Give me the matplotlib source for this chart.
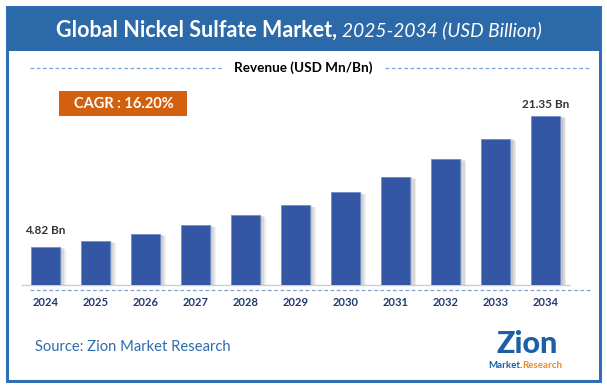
import matplotlib
matplotlib.use("Agg")
from matplotlib import pyplot as plt
from matplotlib.patches import Rectangle
import matplotlib.patheffects as pe

# data
years = ["2024", "2025", "2026", "2027", "2028", "2029",
         "2030", "2031", "2032", "2033", "2034"]
revenue = [4.82, 5.57, 6.45, 7.58, 8.83, 10.08, 11.70, 13.70, 15.97, 18.47, 21.35]
first_label = "4.82 Bn"
last_label = "21.35 Bn"
cagr_text = "CAGR : 16.20%"

W, H = 607, 387
FRAME = "#2E6FB5"
BAR = "#3356A5"
NAVY = "#1F3A6E"


def fx(x):
    return x / W


def fy(y):
    return 1 - y / H


fig = plt.figure(figsize=(W / 100, H / 100), dpi=100)
fig.patch.set_facecolor("white")
plt.rcParams["font.family"] = ["Lato", "DejaVu Sans"]

# outer frame and title bar
fig.patches.append(Rectangle((fx(7), fy(381)), fx(593), (381 - 7) / H,
                             transform=fig.transFigure, fill=False,
                             edgecolor=FRAME, linewidth=2.2))
fig.patches.append(Rectangle((fx(7), fy(51)), fx(593), 44 / H,
                             transform=fig.transFigure, facecolor="#2B69A8",
                             edgecolor="none"))

# title: bold part + italic part, centred together
t1 = fig.text(0, fy(30), "Global Nickel Sulfate Market, ", color="white",
              fontsize=15.5, fontweight="bold", va="center", ha="left")
t2 = fig.text(0, fy(30), "2025-2034 (USD Billion)", color="white",
              fontsize=13.8, fontstyle="italic", va="center", ha="left")
fig.canvas.draw()
w1 = t1.get_window_extent().width
w2 = t2.get_window_extent().width
x0 = 299 - (w1 + w2) / 2
t1.set_x(x0 / W)
t2.set_x((x0 + w1) / W)

# legend-like header
fig.lines.append(plt.Line2D([fx(30), fx(222)], [fy(68), fy(68)],
                            transform=fig.transFigure, color="#7FA1D4",
                            linestyle=(0, (3, 2)), linewidth=0.9))
fig.lines.append(plt.Line2D([fx(385), fx(590)], [fy(68), fy(68)],
                            transform=fig.transFigure, color="#7FA1D4",
                            linestyle=(0, (3, 2)), linewidth=0.9))
fig.text(fx(303), fy(68), "Revenue (USD Mn/Bn)", color="black", fontsize=9.7,
         fontweight="bold", ha="center", va="center")

# CAGR box
fig.patches.append(Rectangle((fx(59), fy(116)), (187 - 59) / W, 25 / H,
                             transform=fig.transFigure, facecolor="#D2600E",
                             edgecolor="none"))
fig.text(fx(124), fy(103.5), cagr_text, color="white", fontsize=10.5,
         fontweight="bold", ha="center", va="center")

# bars
ax = fig.add_axes([fx(22), fy(285), (570 - 22) / W, (285 - 100) / H])
x = list(range(len(years)))
bars = ax.bar(x, revenue, width=0.58, color=BAR, edgecolor="#6F8CC9",
              linewidth=0.6, zorder=3)
for b in bars:
    b.set_path_effects([
        pe.SimplePatchShadow(offset=(4, -1.5), shadow_rgbFace="#888888", alpha=0.15),
        pe.SimplePatchShadow(offset=(3, -1), shadow_rgbFace="#888888", alpha=0.2),
        pe.SimplePatchShadow(offset=(1.5, -0.5), shadow_rgbFace="#888888", alpha=0.25),
        pe.Normal()])
ax.set_xlim(-0.47, 10.48)
ax.set_ylim(0, 23.37)
for s in ["top", "right", "left"]:
    ax.spines[s].set_visible(False)
ax.spines["bottom"].set_color("#CFCFCF")
ax.spines["bottom"].set_linewidth(1.0)
ax.set_yticks([])
ax.set_xticks(x)
ax.set_xticklabels(years, fontsize=8, fontweight="bold", color=NAVY)
ax.tick_params(axis="x", length=0, pad=9)
ax.patch.set_alpha(0)

ax.annotate(first_label, (0, revenue[0]), xytext=(0, 8), textcoords="offset points",
            ha="center", va="bottom", fontsize=8.5, fontweight="bold", color="#333333")
ax.annotate(last_label, (10, revenue[-1]), xytext=(0, 4), textcoords="offset points",
            ha="center", va="bottom", fontsize=8.5, fontweight="bold", color="#333333")

# dashed line under the axis
fig.lines.append(plt.Line2D([fx(30), fx(590)], [fy(290), fy(290)],
                            transform=fig.transFigure, color="#7FA1D4",
                            linestyle=(0, (3, 2)), linewidth=0.9))

# source and logo
fig.text(fx(35), fy(347), "Source: Zion Market Research", color="#2E6AAB",
         fontsize=10.6, ha="left", va="center")
fig.text(fx(527), fy(344), "Zion", color="#1B5FA8", fontsize=22,
         fontweight="black", ha="center", va="center")
mk = fig.text(fx(488), fy(366), "Market.", color="#1B5FA8", fontsize=7,
              fontweight="bold", ha="left", va="center")
fig.canvas.draw()
mb = mk.get_window_extent()
fig.text(mb.x1 / W, fy(366), "Research", color="#F08A1C", fontsize=7,
         fontweight="bold", ha="left", va="center")

fig.savefig("out.png", dpi=100, facecolor="white")
